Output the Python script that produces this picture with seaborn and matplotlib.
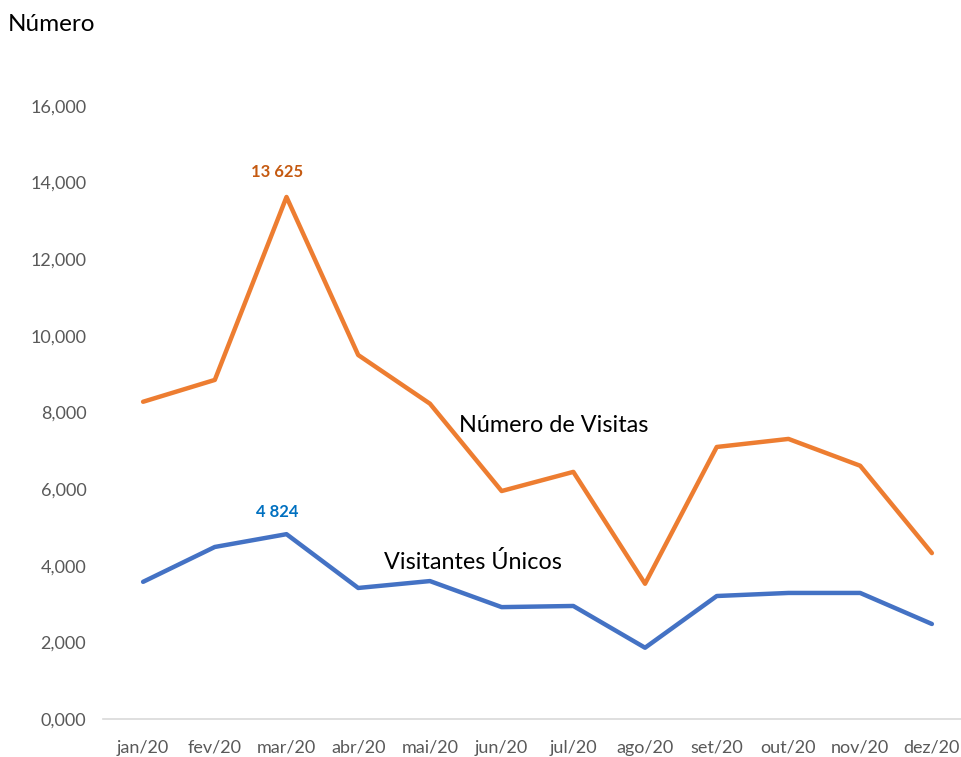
import pandas as pd
import numpy as np
import matplotlib.pyplot as plt
import seaborn as sns

meses = ['jan/20', 'fev/20', 'mar/20', 'abr/20', 'mai/20', 'jun/20',
         'jul/20', 'ago/20', 'set/20', 'out/20', 'nov/20', 'dez/20']
visitas = [8280, 8850, 13625, 9500, 8230, 5950, 6450, 3530, 7100, 7310, 6610, 4330]
unicos = [3580, 4490, 4824, 3420, 3600, 2920, 2950, 1860, 3210, 3290, 3290, 2480]
y_ticks = [0, 2000, 4000, 6000, 8000, 10000, 12000, 14000, 16000]
y_labels = ['0,000', '2,000', '4,000', '6,000', '8,000', '10,000', '12,000', '14,000', '16,000']

sns.set_style('white')
plt.rcParams['font.family'] = ['Lato', 'DejaVu Sans']

df = pd.DataFrame({'mes': meses, 'pos': np.arange(len(meses)),
                   'visitas': visitas, 'unicos': unicos})

fig = plt.figure(figsize=(9.62, 7.57), dpi=100)
ax = fig.add_axes([0.107, 0.0502, 0.893, 0.8098])

sns.lineplot(data=df, x='pos', y='visitas', color='#ED7D31', linewidth=3.2, ax=ax)
sns.lineplot(data=df, x='pos', y='unicos', color='#4472C4', linewidth=3.2, ax=ax)

ax.set_xlim(-0.56, 11.42)
ax.set_ylim(0, 16000)
ax.set_xticks(df['pos'])
ax.set_xticklabels(meses, fontsize=13, color='#595959')
ax.set_yticks(y_ticks)
ax.set_yticklabels(y_labels, fontsize=13, color='#595959')
ax.tick_params(axis='x', length=0, pad=15)
ax.tick_params(axis='y', length=0, pad=12)
ax.set_xlabel('')
ax.set_ylabel('')

for side in ['top', 'right', 'left']:
    ax.spines[side].set_visible(False)
ax.spines['bottom'].set_color('#D9D9D9')
ax.spines['bottom'].set_linewidth(1.2)

# rótulos dos picos
i_v = int(np.argmax(visitas))
ax.annotate('13 625', (i_v, visitas[i_v]), xytext=(-7, 12), textcoords='offset points',
            ha='center', va='bottom', fontsize=12, fontweight='bold', color='#C55A11')
i_u = int(np.argmax(unicos))
ax.annotate('4 824', (i_u, unicos[i_u]), xytext=(-7, 10), textcoords='offset points',
            ha='center', va='bottom', fontsize=12, fontweight='bold', color='#0070C0')

ax.text(5.73, 7650, 'Número de Visitas', fontsize=16.8, color='black', ha='center', va='center')
ax.text(4.6, 4100, 'Visitantes Únicos', fontsize=16.8, color='black', ha='center', va='center')

fig.text(0.008, 0.967, 'Número', fontsize=17.5, color='black', ha='left', va='center')

plt.savefig('out.png', dpi=100)
